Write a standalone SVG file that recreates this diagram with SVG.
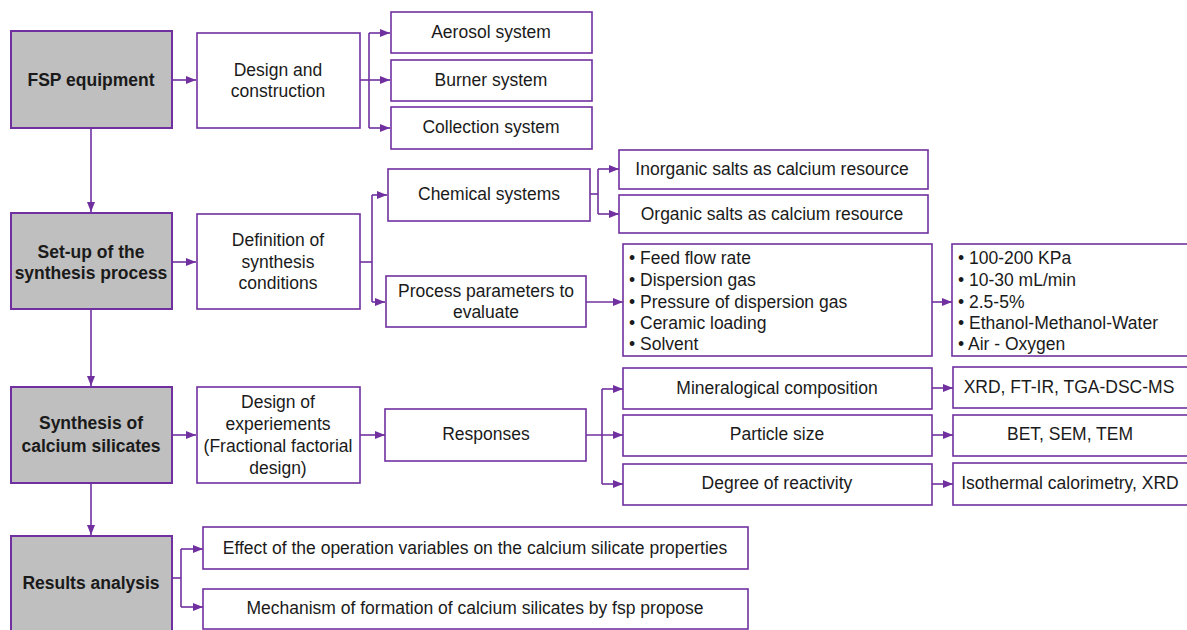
<svg xmlns="http://www.w3.org/2000/svg" width="1187" height="630" viewBox="0 0 1187 630">
<style>
.box{fill:#fff;stroke:#7030a0;stroke-width:1.6}
.main{fill:#bfbfbf;stroke:#7030a0;stroke-width:2}
.t{font-family:"Liberation Sans",Arial,sans-serif;font-size:17.5px;fill:#1a1a1a;text-anchor:middle;dominant-baseline:central}
.b{font-weight:bold}
.l{text-anchor:start}
.c{fill:none;stroke:#7030a0;stroke-width:1.6}
</style>
<defs>
<marker id="ah" markerUnits="userSpaceOnUse" markerWidth="10" markerHeight="10" viewBox="0 0 10 10" refX="10" refY="5" orient="auto">
<path d="M0,1 L10,5 L0,9 Z" fill="#7030a0"/>
</marker>
</defs>
<rect width="1187" height="630" fill="#fff"/>
<g id="connectors">
<path class="c" d="M172,80 H196" marker-end="url(#ah)"/>
<path class="c" d="M360,80 H390" marker-end="url(#ah)"/>
<path class="c" d="M369,33 V128"/>
<path class="c" d="M369,33 H390" marker-end="url(#ah)"/>
<path class="c" d="M369,128 H390" marker-end="url(#ah)"/>
<path class="c" d="M91,128 V212" marker-end="url(#ah)"/>
<path class="c" d="M172,262 H196" marker-end="url(#ah)"/>
<path class="c" d="M360,262 H372"/>
<path class="c" d="M372,195 V302"/>
<path class="c" d="M372,195 H387" marker-end="url(#ah)"/>
<path class="c" d="M372,302 H385" marker-end="url(#ah)"/>
<path class="c" d="M590,194 H598"/>
<path class="c" d="M598,169 V214"/>
<path class="c" d="M598,169 H619" marker-end="url(#ah)"/>
<path class="c" d="M598,214 H619" marker-end="url(#ah)"/>
<path class="c" d="M586,302 H623" marker-end="url(#ah)"/>
<path class="c" d="M932,302 H952" marker-end="url(#ah)"/>
<path class="c" d="M91,309 V386" marker-end="url(#ah)"/>
<path class="c" d="M172,435 H196" marker-end="url(#ah)"/>
<path class="c" d="M360,435 H385" marker-end="url(#ah)"/>
<path class="c" d="M586,435 H623" marker-end="url(#ah)"/>
<path class="c" d="M602,389 V484"/>
<path class="c" d="M602,389 H623" marker-end="url(#ah)"/>
<path class="c" d="M602,484 H623" marker-end="url(#ah)"/>
<path class="c" d="M932,388 H953" marker-end="url(#ah)"/>
<path class="c" d="M932,435 H953" marker-end="url(#ah)"/>
<path class="c" d="M932,484 H953" marker-end="url(#ah)"/>
<path class="c" d="M91,483 V535" marker-end="url(#ah)"/>
<path class="c" d="M172,578 H181"/>
<path class="c" d="M181,549 V607"/>
<path class="c" d="M181,549 H203" marker-end="url(#ah)"/>
<path class="c" d="M181,607 H203" marker-end="url(#ah)"/>
</g>
<g id="fsp"><rect class="main" x="11" y="31" width="161" height="97"/><text class="t b" x="91" y="80">FSP equipment</text></g>
<g id="design"><rect class="box" x="197" y="33" width="163" height="95"/><text class="t" x="278" y="70">Design and</text><text class="t" x="278" y="91">construction</text></g>
<g id="aerosol"><rect class="box" x="391" y="12" width="201" height="41"/><text class="t" x="491" y="32">Aerosol system</text></g>
<g id="burner"><rect class="box" x="391" y="60" width="201" height="41"/><text class="t" x="491" y="80">Burner system</text></g>
<g id="collection"><rect class="box" x="391" y="107" width="201" height="42"/><text class="t" x="491" y="127">Collection system</text></g>
<g id="setup"><rect class="main" x="11" y="213" width="161" height="96"/><text class="t b" x="91" y="252">Set-up of the</text><text class="t b" x="91" y="273">synthesis process</text></g>
<g id="definition"><rect class="box" x="197" y="214" width="163" height="95"/><text class="t" x="278" y="240">Definition of</text><text class="t" x="278" y="262">synthesis</text><text class="t" x="278" y="283">conditions</text></g>
<g id="chemical"><rect class="box" x="388" y="169" width="202" height="52"/><text class="t" x="489" y="194">Chemical systems</text></g>
<g id="process"><rect class="box" x="386" y="276" width="200" height="51"/><text class="t" x="486" y="291">Process parameters to</text><text class="t" x="486" y="312">evaluate</text></g>
<g id="inorganic"><rect class="box" x="619" y="150" width="309" height="39"/><text class="t" x="772" y="169">Inorganic salts as calcium resource</text></g>
<g id="organic"><rect class="box" x="619" y="195" width="309" height="38"/><text class="t" x="772" y="214">Organic salts as calcium resource</text></g>
<g id="params"><rect class="box" x="623" y="244" width="309" height="112"/>
<text class="t l" x="629" y="258">• Feed flow rate</text>
<text class="t l" x="629" y="280">• Dispersion gas</text>
<text class="t l" x="629" y="302">• Pressure of dispersion gas</text>
<text class="t l" x="629" y="323">• Ceramic loading</text>
<text class="t l" x="629" y="344">• Solvent</text></g>
<g id="values"><rect class="box" x="952" y="244" width="240" height="112"/>
<text class="t l" x="958" y="258">• 100-200 KPa</text>
<text class="t l" x="958" y="280">• 10-30 mL/min</text>
<text class="t l" x="958" y="302">• 2.5-5%</text>
<text class="t l" x="958" y="323">• Ethanol-Methanol-Water</text>
<text class="t l" x="958" y="344">• Air - Oxygen</text></g>
<g id="synthesis"><rect class="main" x="11" y="387" width="161" height="96"/><text class="t b" x="91" y="423">Synthesis of</text><text class="t b" x="91" y="446">calcium silicates</text></g>
<g id="doe"><rect class="box" x="197" y="387" width="163" height="96"/><text class="t" x="278" y="402">Design of</text><text class="t" x="278" y="424">experiements</text><text class="t" x="278" y="446">(Fractional factorial</text><text class="t" x="278" y="468">design)</text></g>
<g id="responses"><rect class="box" x="385" y="409" width="201" height="52"/><text class="t" x="486" y="434">Responses</text></g>
<g id="mineral"><rect class="box" x="623" y="368" width="309" height="41"/><text class="t" x="777" y="388">Mineralogical composition</text></g>
<g id="particle"><rect class="box" x="623" y="415" width="309" height="41"/><text class="t" x="777" y="434">Particle size</text></g>
<g id="degree"><rect class="box" x="623" y="464" width="309" height="41"/><text class="t" x="777" y="483">Degree of reactivity</text></g>
<g id="xrd"><rect class="box" x="953" y="367" width="240" height="41"/><text class="t" x="1069" y="387">XRD, FT-IR, TGA-DSC-MS</text></g>
<g id="bet"><rect class="box" x="953" y="415" width="240" height="41"/><text class="t" x="1070" y="434">BET, SEM, TEM</text></g>
<g id="iso"><rect class="box" x="953" y="463" width="240" height="42"/><text class="t" x="1070" y="483">Isothermal calorimetry, XRD</text></g>
<g id="results"><rect class="main" x="11" y="536" width="161" height="100"/><text class="t b" x="91" y="583">Results analysis</text></g>
<g id="effect"><rect class="box" x="203" y="527" width="545" height="42"/><text class="t" x="475" y="548">Effect of the operation variables on the calcium silicate properties</text></g>
<g id="mechanism"><rect class="box" x="203" y="589" width="545" height="40"/><text class="t" x="475" y="608">Mechanism of formation of calcium silicates by fsp propose</text></g>
</svg>
